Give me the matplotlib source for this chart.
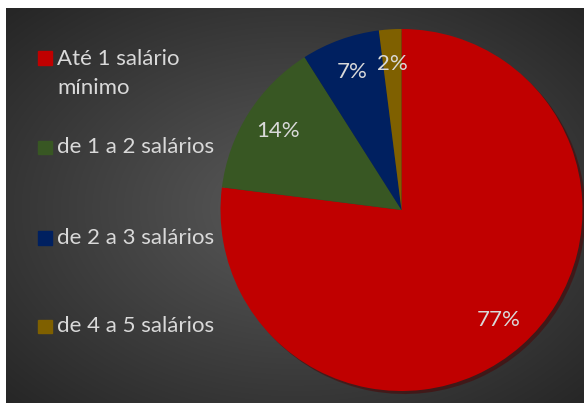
import numpy as np
import matplotlib.pyplot as plt
from matplotlib.patches import Rectangle

# --- data ---
categories = ["Até 1 salário\nmínimo", "de 1 a 2 salários", "de 2 a 3 salários", "de 4 a 5 salários"]
percent = [77, 14, 7, 2]
colors = ["#C00000", "#385723", "#002060", "#7F6000"]

W, H = 584, 403
fig = plt.figure(figsize=(W / 100, H / 100), dpi=100, facecolor="white")
plt.rcParams['font.family'] = ['Lato', 'DejaVu Sans']

# --- radial gradient background (chart area) ---
bg = fig.add_axes([6 / W, 0, (W - 6) / W, (H - 8) / H])
yy, xx = np.mgrid[0:H - 8, 0:W - 6]
cx, cy = 290, 200
d = np.sqrt(((xx - cx) / (W - 6)) ** 2 + ((yy - cy) / (H - 8)) ** 2)
d = np.clip(d / 0.72, 0, 1)
inner = np.array([0x5a, 0x5a, 0x5a]) / 255
outer = np.array([0x25, 0x25, 0x25]) / 255
img = inner[None, None, :] * (1 - d[..., None]) + outer[None, None, :] * d[..., None]
bg.imshow(img, aspect='auto', interpolation='bilinear')
bg.axis('off')

# --- pie ---
r_px = 181
pcx, pcy = 401.5, 210
ax = fig.add_axes([(pcx - r_px) / W, (H - pcy - r_px) / H, 2 * r_px / W, 2 * r_px / H])
ax.set_facecolor('none')
wedges, texts, autotexts = ax.pie(
    percent, colors=colors, startangle=90, counterclock=False,
    autopct='%1.0f%%', pctdistance=0.81, radius=1,
    shadow={'ox': 0.012, 'oy': -0.012, 'shade': 0.6, 'alpha': 0.5},
    wedgeprops=dict(linewidth=0),
    textprops=dict(color="#D9D9D9", fontsize=16))
ax.set_xlim(-1, 1)
ax.set_ylim(-1, 1)
ax.set_aspect('equal')
ax.axis('off')

# --- legend (drawn manually to follow the original spacing) ---
leg_y = [58, 147, 238, 326]
for lab, col, y in zip(categories, colors, leg_y):
    fig.patches.append(Rectangle((38 / W, 1 - (y + 7) / H), 13.5 / W, 13.5 / H,
                                 transform=fig.transFigure, color=col))
    if '\n' in lab:
        fig.text(57 / W, 1 - (y - 9) / H, lab, color="#D9D9D9", fontsize=16,
                 va='top', ha='left', linespacing=1.55)
    else:
        fig.text(57 / W, 1 - y / H, lab, color="#D9D9D9", fontsize=16,
                 va='center', ha='left')

fig.savefig("out.png", dpi=100, facecolor="white")
